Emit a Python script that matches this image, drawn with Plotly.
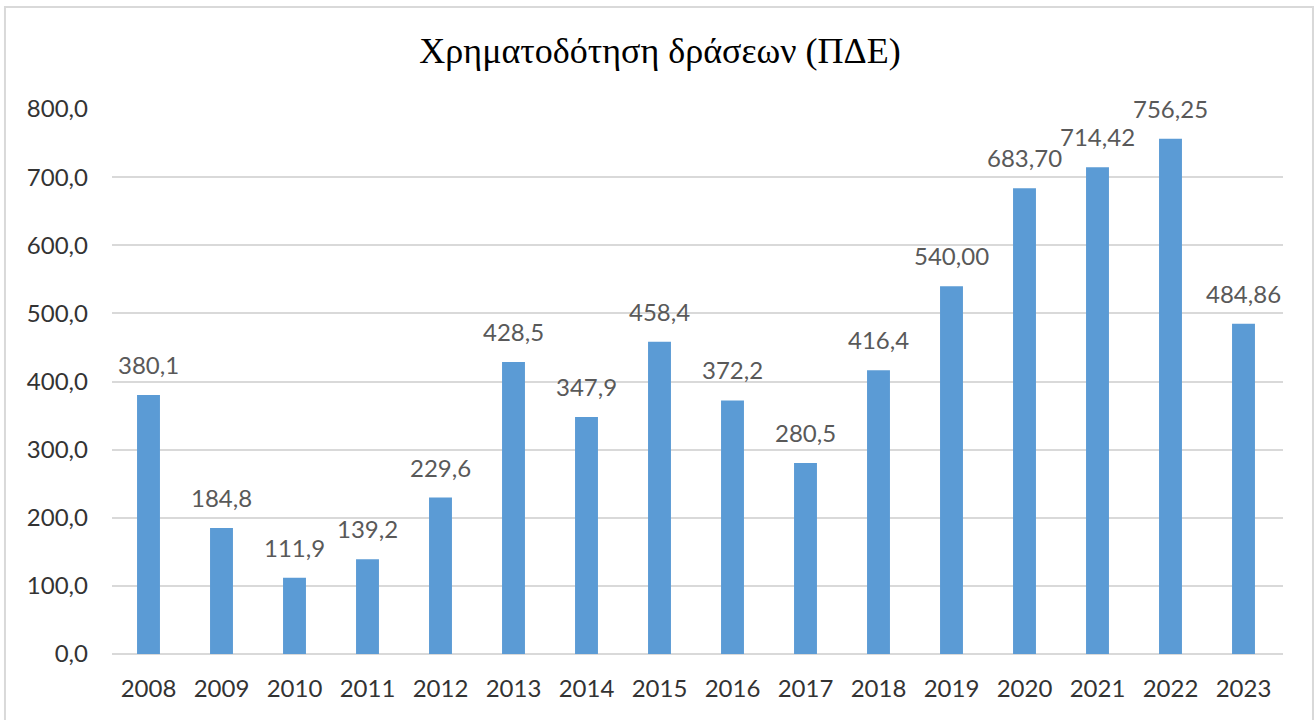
import plotly.graph_objects as go

years = ["2008", "2009", "2010", "2011", "2012", "2013", "2014", "2015",
         "2016", "2017", "2018", "2019", "2020", "2021", "2022", "2023"]
values = [380.1, 184.8, 111.9, 139.2, 229.6, 428.5, 347.9, 458.4,
          372.2, 280.5, 416.4, 540.00, 683.70, 714.42, 756.25, 484.86]
labels = ["380,1", "184,8", "111,9", "139,2", "229,6", "428,5", "347,9", "458,4",
          "372,2", "280,5", "416,4", "540,00", "683,70", "714,42", "756,25", "484,86"]
y_ticks = [0, 100, 200, 300, 400, 500, 600, 700, 800]
y_tick_text = ["0,0", "100,0", "200,0", "300,0", "400,0", "500,0", "600,0", "700,0", "800,0"]
title = "Χρηματοδότηση δράσεων (ΠΔΕ)"

TXT = "#595959"
TICK = "#333333"
FONT = "Lato"

fig = go.Figure()
fig.add_trace(go.Bar(x=years, y=values, marker=dict(color="#5B9BD5", line=dict(width=0)),
                     hoverinfo="x+y"))

for i, (v, t) in enumerate(zip(values, labels)):
    fig.add_annotation(x=i, y=v, text=t, showarrow=False, xref="x", yref="y",
                       yanchor="bottom", yshift=14,
                       font=dict(family=FONT, size=24, color=TXT))

# outer chart border
fig.add_shape(type="rect", xref="paper", yref="paper",
              x0=-0.0914, x1=1.0256, y0=-0.13, y1=1.187,
              line=dict(color="#D9D9D9", width=2), fillcolor="rgba(0,0,0,0)", layer="below")

fig.update_layout(
    width=1315, height=720,
    margin=dict(l=112, r=32, t=109, b=66, autoexpand=False),
    paper_bgcolor="white", plot_bgcolor="white",
    bargap=0.686,
    showlegend=False,
    title=dict(text=title, x=660 / 1315, xref="container", xanchor="center",
               y=1 - 50 / 720, yanchor="middle",
               font=dict(family="Liberation Serif", size=36, color="black")),
    xaxis=dict(type="category", showgrid=False, showline=False, ticks="",
               tickfont=dict(family=FONT, size=24, color=TICK), ticklabelstandoff=18),
    yaxis=dict(range=[0, 800], tickvals=y_ticks, ticktext=y_tick_text,
               showgrid=True, gridcolor="#D9D9D9", gridwidth=1.5,
               zeroline=True, zerolinecolor="#D9D9D9", zerolinewidth=1.5,
               showline=False, ticks="", ticklabelstandoff=23,
               tickfont=dict(family=FONT, size=24, color=TICK)),
)

fig.write_html("out.html", config={"displayModeBar": False},
               post_script="document.body.style.margin='0';")
